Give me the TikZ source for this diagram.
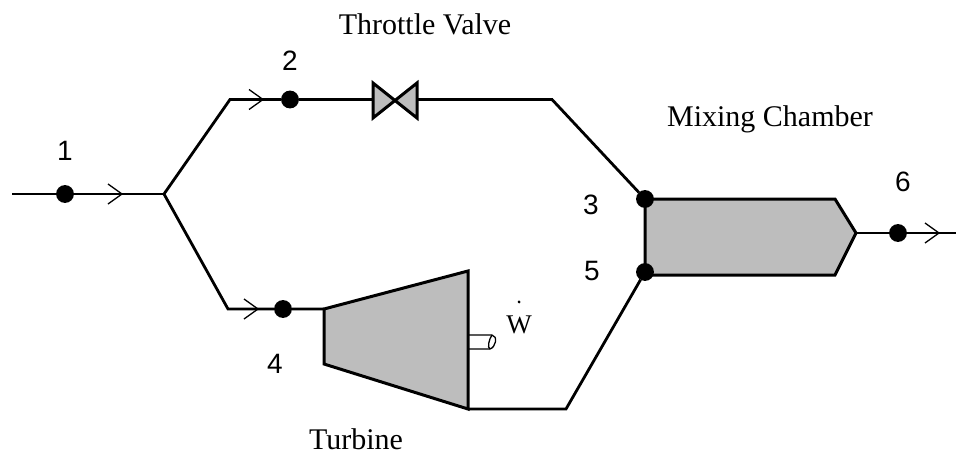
\documentclass[tikz,border=0pt]{standalone}
\usepackage{fontspec}
\setmainfont{Liberation Serif}
\newfontfamily\numfont{Liberation Sans}
\usepackage{tikz}
\newcommand{\chevron}[2]{\draw[fine] (#1-14,#2-10) -- (#1,#2) -- (#1-14,#2+10);}

\begin{document}
\begin{tikzpicture}[x=1pt, y=-1pt, line width=2.8pt, line join=miter,
		main/.style = {draw=black, fill=black, circle, inner sep=0pt, minimum size=15pt},
		device/.style = {draw=black, fill=black!26, line width=3pt},
		title/.style = {inner sep=0pt, font=\fontsize{30}{34}\selectfont},
		num/.style = {font=\numfont\fontsize{28}{32}\selectfont},
		fine/.style = {line width=1.3pt}]
	\useasboundingbox (0,0) rectangle (956,450);

	\coordinate (inlet) at (12,194);
	\coordinate (split) at (164,194);
	\coordinate (upper) at (230,99.5);
	\coordinate (lower) at (228,309);
	\coordinate (bend) at (552,99.5);
	\coordinate (low) at (566,409);
	\coordinate (outlet) at (956,233);

	\draw[device] (324,309) coordinate (t1) -- (468,271) -- (468,409) coordinate (t2) -- (324,364) -- cycle;
	\draw[device] (645,199) -- (835,199) -- (856,233) coordinate (m1) -- (835,275) -- (645,275) -- cycle;
	\draw[device] (373,83) -- (373,118) -- (417,83) -- (417,118) -- cycle;
	\coordinate (v1) at (373,99.5);
	\coordinate (v2) at (417,99.5);

	\node[main] (1) at (65,194) {};
	\node[main] (2) at (290,99.5) {};
	\node[main] (3) at (645,199) {};
	\node[main] (4) at (283,309) {};
	\node[main] (5) at (645,272) {};
	\node[main] (6) at (898,233) {};

	\draw (inlet) -- (1) -- (split);
	\draw (split) -- (upper) -- (2) -- (v1);
	\draw (v2) -- (bend) -- (3);
	\draw (split) -- (lower) -- (4) -- (t1);
	\draw (t2) -- (low) -- (5);
	\draw (m1) -- (6) -- (outlet);

	\chevron{122}{194}
	\chevron{263}{99.5}
	\chevron{258}{309}
	\chevron{939}{233}

	% shaft
	\draw[fine] (468,335) -- (492,335) .. controls (498,336) and (496,347) .. (490,349) -- (468,349);
	\draw[fine] (492,335) .. controls (489,339) and (487,348) .. (490,349);

	\node[title] (valve) at (425,24) {Throttle Valve};
	\node[title] (mixer) at (770,119) {Mixing Chamber};
	\node[title] (turbine) at (356,439) {Turbine};
	\node[title, anchor=base, font=\fontsize{27}{32}\selectfont] (power) at (519,333) {$\dot{\mathrm{W}\rule{0pt}{26pt}}$};
	\fill (519,302) circle (1.5pt);

	\node[num] (n1) at (65,151) {1};
	\node[num] (n2) at (290,61) {2};
	\node[num] (n3) at (591,205) {3};
	\node[num] (n4) at (275,364) {4};
	\node[num] (n5) at (592,271) {5};
	\node[num] (n6) at (903,182) {6};
\end{tikzpicture}
\end{document}
